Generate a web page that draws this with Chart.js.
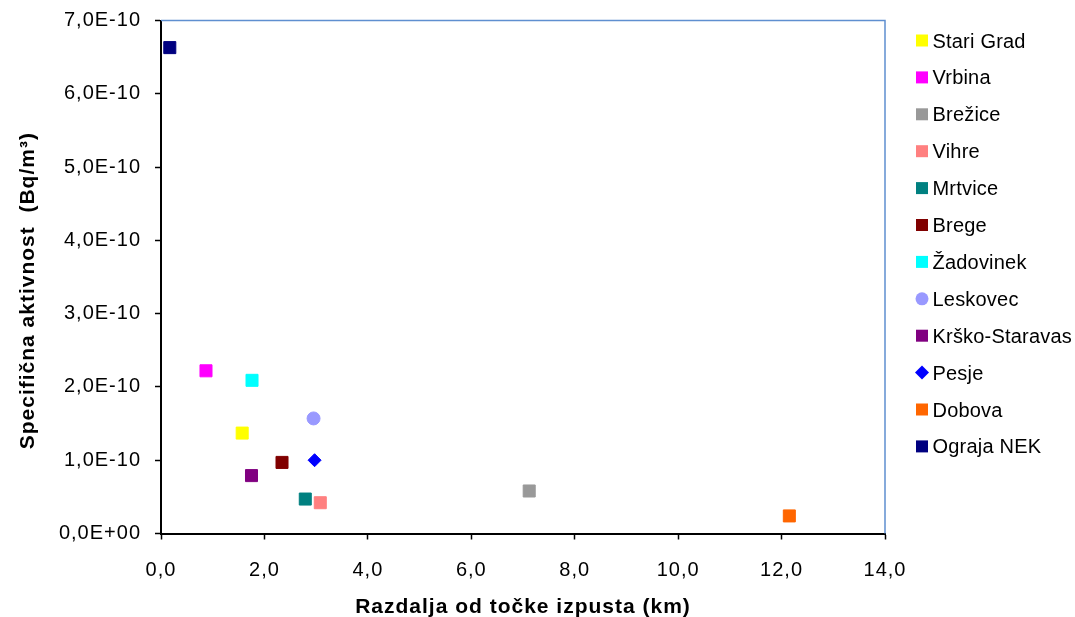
<!DOCTYPE html>
<html>
<head>
<meta charset="utf-8">
<script src="https://cdn.jsdelivr.net/npm/chart.js@4.4.1/dist/chart.umd.min.js"></script>
<style>
  html, body { margin: 0; padding: 0; background: #fff; }
  #wrap { width: 1075px; height: 617px; position: relative; }
</style>
</head>
<body>
<div id="wrap"><canvas id="myChart"></canvas></div>
<script>
// measuring points and their readings
const stations = ['Stari Grad', 'Vrbina', 'Brežice', 'Vihre', 'Mrtvice', 'Brege',
  'Žadovinek', 'Leskovec', 'Krško-Staravas', 'Pesje', 'Dobova', 'Ograja NEK'];
const distances = [1.57, 0.87, 7.12, 3.08, 2.79, 2.34, 1.76, 2.95, 1.75, 2.97, 12.15, 0.17];   // km
const activities = [1.37e-10, 2.22e-10, 0.58e-10, 0.42e-10, 0.47e-10, 0.97e-10,
  2.09e-10, 1.57e-10, 0.79e-10, 1.0e-10, 0.24e-10, 6.63e-10];                            // Bq/m3

// look of each series
const colors = ['#ffff00', '#ff00ff', '#999999', '#ff8080', '#008080', '#800000',
  '#00ffff', '#9999ff', '#800080', '#0000ff', '#ff6600', '#000080'];
const shapes = ['rect', 'rect', 'rect', 'rect', 'rect', 'rect',
  'rect', 'circle', 'rect', 'rectRot', 'rect', 'rect'];

const xTicks = [0, 2, 4, 6, 8, 10, 12, 14];

function radiusFor(shape) {
  if (shape === 'rect') return 8.5;
  return 6.5;
}

const datasets = stations.map((name, i) => ({
  label: name,
  data: [{ x: distances[i], y: activities[i] }],
  pointStyle: shapes[i],
  pointRadius: radiusFor(shapes[i]),
  pointHoverRadius: radiusFor(shapes[i]),
  backgroundColor: colors[i],
  borderColor: colors[i],
  pointBorderWidth: 1,
  showLine: false
}));

// axis text in the original is a bit spread out
const spacing = {
  id: 'spacing',
  beforeLayout(chart) { chart.ctx.letterSpacing = '1px'; },
  beforeDraw(chart) { chart.ctx.letterSpacing = '1px'; }
};

// blue frame on top and right of the plot area
const plotFrame = {
  id: 'plotFrame',
  afterDraw(chart) {
    const { ctx, chartArea: a } = chart;
    ctx.save();
    ctx.strokeStyle = '#5f8fd0';
    ctx.lineWidth = 1.5;
    ctx.beginPath();
    ctx.moveTo(a.left, a.top);
    ctx.lineTo(a.right, a.top);
    ctx.lineTo(a.right, a.bottom);
    ctx.stroke();
    ctx.restore();
  }
};

// legend list at the right, drawn by hand so it sits like the original
const sideLegend = {
  id: 'sideLegend',
  afterDraw(chart) {
    const ctx = chart.ctx;
    const x0 = chart.chartArea.right + 37;
    ctx.save();
    ctx.letterSpacing = '0.2px';
    ctx.font = '20px "Liberation Sans", Arial, sans-serif';
    ctx.textBaseline = 'middle';
    ctx.textAlign = 'left';
    chart.data.datasets.forEach((ds, i) => {
      const y = 42 + i * 36.9;
      const my = y - 1.5;
      ctx.fillStyle = ds.backgroundColor;
      ctx.beginPath();
      if (ds.pointStyle === 'circle') {
        ctx.arc(x0, my, 6.5, 0, Math.PI * 2);
      } else if (ds.pointStyle === 'rectRot') {
        ctx.moveTo(x0, my - 7);
        ctx.lineTo(x0 + 7, my);
        ctx.lineTo(x0, my + 7);
        ctx.lineTo(x0 - 7, my);
        ctx.closePath();
      } else {
        ctx.rect(x0 - 6, my - 6, 12, 12);
      }
      ctx.fill();
      ctx.fillStyle = '#000';
      ctx.fillText(ds.label, x0 + 10.5, y);
    });
    ctx.restore();
  }
};

Chart.defaults.font.family = '"Liberation Sans", Arial, sans-serif';
Chart.defaults.color = '#000';

new Chart(document.getElementById('myChart'), {
  type: 'scatter',
  data: { datasets },
  options: {
    responsive: true,
    maintainAspectRatio: false,
    animation: false,
    layout: { padding: { top: 20.5, right: 190, bottom: 0, left: 0 } },
    plugins: {
      legend: { display: false },
      tooltip: { enabled: false }
    },
    scales: {
      x: {
        type: 'linear',
        min: 0,
        max: 14,
        afterBuildTicks: s => { s.ticks = xTicks.map(v => ({ value: v })); },
        afterFit: s => { s.height = 83.5; s.paddingLeft = 0; s.paddingRight = 0; },
        grid: { drawOnChartArea: false, drawTicks: true, tickLength: 6, color: '#000', tickWidth: 1.5 },
        border: { display: true, color: '#000', width: 2 },
        ticks: {
          padding: 19,
          font: { size: 20 },
          callback: v => v.toFixed(1).replace('.', ',')
        },
        title: {
          display: true,
          text: 'Razdalja od točke izpusta (km)',
          font: { size: 21, weight: 'bold' },
          padding: { top: 4, bottom: -3 }
        }
      },
      y: {
        type: 'linear',
        min: 0,
        max: 7e-10,
        ticks: {
          stepSize: 1e-10,
          padding: 14,
          font: { size: 20 },
          callback: v => v < 1e-12 ? '0,0E+00' : (v / 1e-10).toFixed(1).replace('.', ',') + 'E-10'
        },
        afterFit: s => { s.width = 161; s.paddingTop = 0; s.paddingBottom = 0; },
        grid: { drawOnChartArea: false, drawTicks: true, tickLength: 6, color: '#000', tickWidth: 1.5 },
        border: { display: true, color: '#000', width: 2 },
        title: {
          display: true,
          text: 'Specifična aktivnost  (Bq/m³)    ',
          font: { size: 21, weight: 'bold' },
          padding: { top: 16, bottom: 0 }
        }
      }
    }
  },
  plugins: [spacing, plotFrame, sideLegend]
});
</script>
</body>
</html>
